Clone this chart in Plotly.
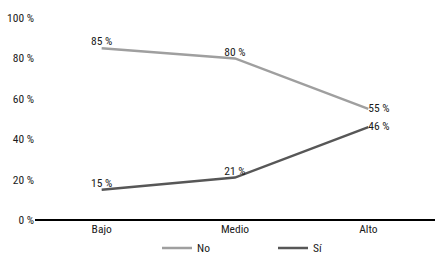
import plotly.graph_objects as go

categories = ["Bajo", "Medio", "Alto"]
no_values = [85, 80, 55]
si_values = [15, 21, 46]
y_ticks = [0, 20, 40, 60, 80, 100]
y_tick_labels = [f"{v} %" for v in y_ticks]

FONT = "Roboto Condensed, DejaVu Sans Condensed, sans-serif"
TXT = "#1a1a1a"
FS = 11.5

fig = go.Figure()
fig.add_trace(go.Scatter(
    x=categories, y=no_values, name="No", mode="lines+text",
    line=dict(color="#9f9f9f", width=2.5),
    text=[f"{v} %" for v in no_values],
    textposition=["top center", "top center", "middle right"],
    textfont=dict(size=FS, color=TXT, family=FONT),
    cliponaxis=False,
))
fig.add_trace(go.Scatter(
    x=categories, y=si_values, name="Sí", mode="lines+text",
    line=dict(color="#575757", width=2.5),
    text=[f"{v} %" for v in si_values],
    textposition=["top center", "top center", "middle right"],
    textfont=dict(size=FS, color=TXT, family=FONT),
    cliponaxis=False,
))

fig.update_layout(
    width=439, height=258,
    margin=dict(l=35, r=4, t=17.5, b=38, autoexpand=False),
    paper_bgcolor="white", plot_bgcolor="white",
    font=dict(family=FONT, size=FS, color=TXT),
    showlegend=True,
    legend=dict(orientation="h", x=0.305, xanchor="left", y=-0.138, yanchor="middle",
                font=dict(size=FS, family=FONT, color=TXT),
                entrywidth=71, entrywidthmode="pixels",
                traceorder="normal"),
    xaxis=dict(type="category", range=[-0.5, 2.5], showgrid=False, showline=False,
               ticks="", zeroline=False, tickfont=dict(size=FS, family=FONT, color=TXT)),
    yaxis=dict(range=[0, 100], tickvals=y_ticks, ticktext=y_tick_labels, showgrid=False,
               zeroline=True, zerolinecolor="#000000", zerolinewidth=1.5,
               showline=False, ticks="", tickfont=dict(size=FS, family=FONT, color=TXT)),
)

fig.write_html("out.html", config={"displayModeBar": False},
               post_script="document.body.style.margin='0';")
